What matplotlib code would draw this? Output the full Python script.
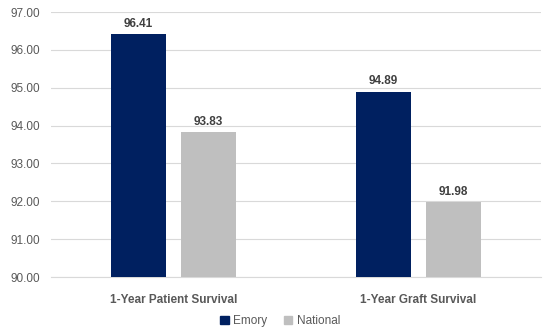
import matplotlib
matplotlib.use("Agg")
import matplotlib.pyplot as plt
import numpy as np
from matplotlib.patches import Patch

categories = ["1-Year Patient Survival", "1-Year Graft Survival"]
emory = [96.41, 94.89]
national = [93.83, 91.98]
series_names = ["Emory", "National"]

plt.rcParams['font.family'] = ['Liberation Sans', 'DejaVu Sans']
txt = '#595959'
fig = plt.figure(figsize=(5.55, 3.35), dpi=100)
ax = fig.add_axes([0.092, 0.173, 0.883, 0.791])

x = np.arange(len(categories))
w = 0.2245
off = 0.143
b1 = ax.bar(x - off, emory, w, color='#002060', label=series_names[0], zorder=3)
b2 = ax.bar(x + off, national, w, color='#BFBFBF', label=series_names[1], zorder=3)
for bars, vals in ((b1, emory), (b2, national)):
    for r, v in zip(bars, vals):
        ax.text(r.get_x() + r.get_width()/2, v + 0.12, f"{v:.2f}", ha='center', va='bottom',
                fontsize=8.5, color='#404040', fontweight='bold')

ax.set_xlim(-0.5, 1.5)
ax.set_ylim(90, 97)
ax.set_yticks(np.arange(90, 97.01, 1))
ax.set_yticklabels([f"{v:.2f}" for v in np.arange(90, 97.01, 1)], fontsize=8.5, color=txt)
ax.set_xticks(x)
ax.set_xticklabels(categories, fontsize=8.5, color=txt, fontweight='bold')
ax.tick_params(axis='both', length=0)
ax.tick_params(axis='x', pad=12)
ax.tick_params(axis='y', pad=8)
ax.grid(axis='y', color='#D9D9D9', linewidth=0.8, zorder=0)
for s in ['top', 'right', 'left']:
    ax.spines[s].set_visible(False)
ax.spines['bottom'].set_color('#D9D9D9')

handles = [Patch(color='#002060', label='Emory'), Patch(color='#BFBFBF', label='National')]
fig.legend(handles=handles, loc='center', bbox_to_anchor=(0.505, 0.042), ncol=2, frameon=False,
           fontsize=8.5, handlelength=0.7, handleheight=0.7, handletextpad=0.4, columnspacing=1.4,
           labelcolor=txt)

fig.savefig('out.png', dpi=100)
